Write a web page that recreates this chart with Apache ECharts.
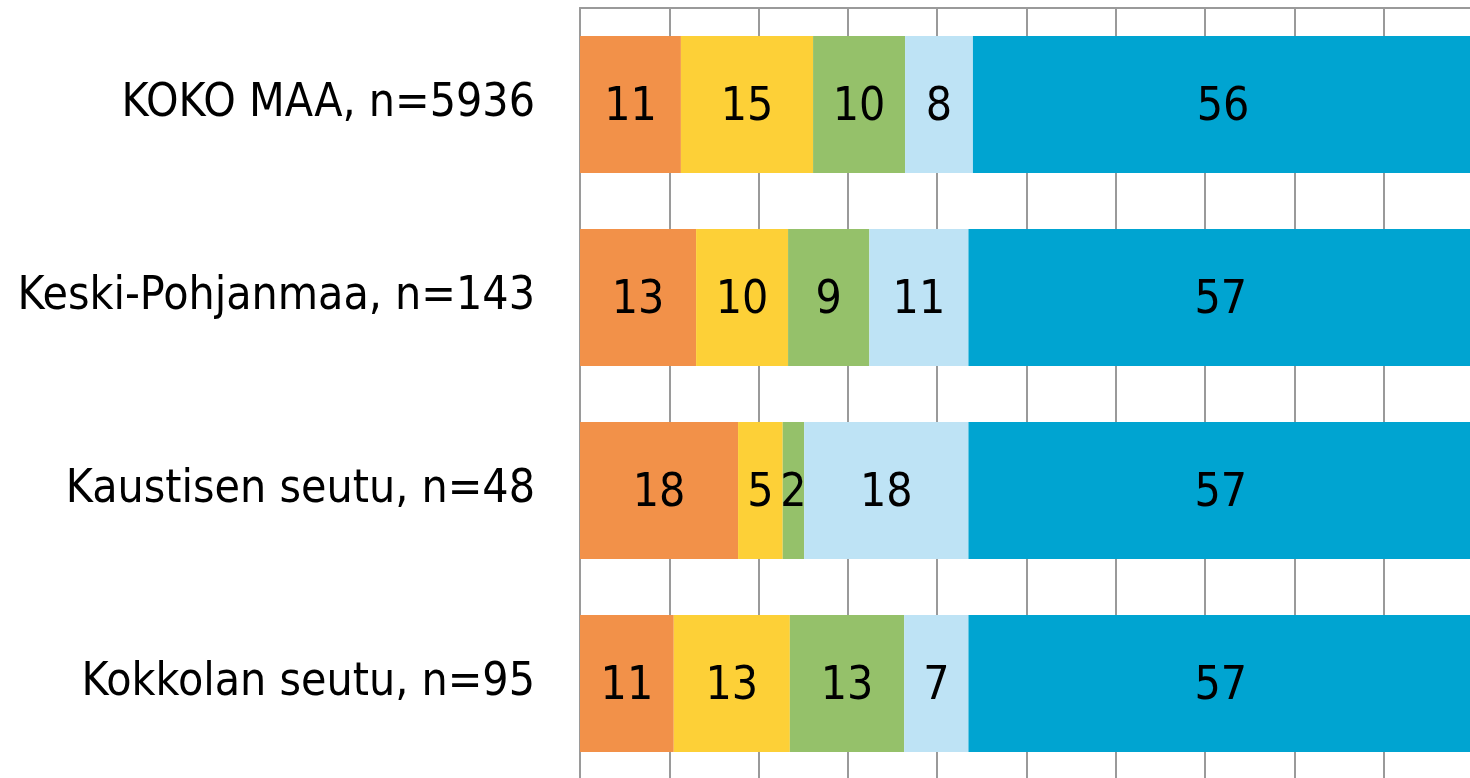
<!DOCTYPE html>
<html>
<head>
<meta charset="utf-8">
<script src="https://cdn.jsdelivr.net/npm/echarts@6/dist/echarts.min.js"></script>
<style>
  html, body { margin: 0; padding: 0; background: #fff; }
  #chart { width: 1470px; height: 778px; }
</style>
</head>
<body>
<div id="chart"></div>
<script>
const categories = ['KOKO MAA, n=5936', 'Keski-Pohjanmaa, n=143', 'Kaustisen seutu, n=48', 'Kokkolan seutu, n=95']
const orangeVals = [11.3, 13.0, 17.7, 10.5]
const yellowVals = [14.8, 10.3, 5.0, 13.0]
const greenVals = [10.3, 9.1, 2.4, 12.8]
const lightBlueVals = [7.6, 11.1, 18.4, 7.2]
const blueVals = [56.0, 56.6, 56.6, 56.6]

const colors = ['#F29149', '#FDD037', '#95C16A', '#BEE3F5', '#00A4D1']
const FONT = "'DejaVu Sans Condensed', 'DejaVu Sans', sans-serif"

const chart = echarts.init(document.getElementById('chart'))

function makeSeries(name, data, color) {
  return {
    name: name,
    type: 'bar',
    stack: 'total',
    data: data,
    barWidth: 137,
    itemStyle: { color: color },
    label: {
      show: true,
      position: 'inside',
      offset: [0, 4],
      color: '#000',
      fontSize: 46,
      fontFamily: FONT,
      formatter: (p) => Math.round(p.value)
    },
    emphasis: { disabled: true }
  }
}

chart.setOption({
  animation: false,
  grid: {
    left: 580,
    top: 8,
    width: 893,
    height: 772,
    containLabel: false,
    outerBoundsMode: 'none'
  },
  xAxis: {
    type: 'value',
    position: 'top',
    min: 0,
    max: 100,
    interval: 10,
    axisLine: { show: true, lineStyle: { color: '#9a9a9a', width: 2 } },
    axisTick: { show: false },
    axisLabel: { show: false },
    splitLine: { show: true, lineStyle: { color: '#9a9a9a', width: 2 } }
  },
  yAxis: {
    type: 'category',
    inverse: true,
    data: categories,
    axisLine: { show: true, lineStyle: { color: '#9a9a9a', width: 2 } },
    axisTick: { show: false },
    axisLabel: {
      color: '#000',
      fontSize: 46,
      fontFamily: FONT,
      margin: 45,
      padding: [8, 0, 0, 0]
    }
  },
  series: [
    makeSeries('s1', orangeVals, colors[0]),
    makeSeries('s2', yellowVals, colors[1]),
    makeSeries('s3', greenVals, colors[2]),
    makeSeries('s4', lightBlueVals, colors[3]),
    makeSeries('s5', blueVals, colors[4])
  ]
})

window.addEventListener('resize', () => chart.resize())
</script>
</body>
</html>
